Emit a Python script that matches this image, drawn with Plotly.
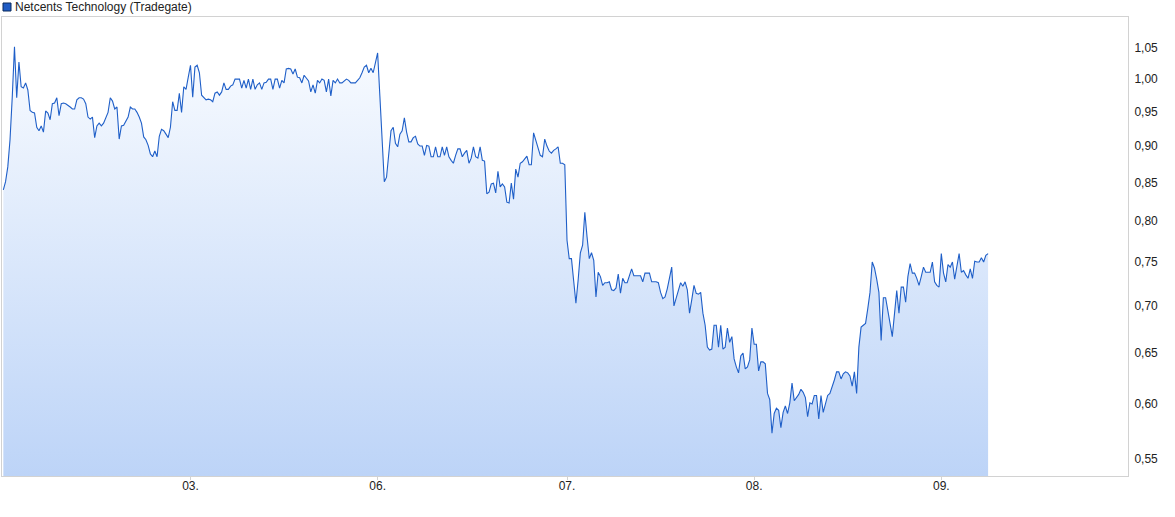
import plotly.graph_objects as go

# ---- data ----
series_name = "Netcents Technology (Tradegate)"

prices = [
    0.840, 0.851, 0.871, 0.909, 0.972, 1.052, 0.971, 1.027, 0.988, 0.986,
    0.994, 0.983, 0.952, 0.949, 0.948, 0.927, 0.922, 0.929, 0.920, 0.951,
    0.948, 0.938, 0.962, 0.963, 0.971, 0.944, 0.962, 0.963, 0.962, 0.960,
    0.957, 0.954, 0.954, 0.968, 0.971, 0.971, 0.969, 0.962, 0.942, 0.939,
    0.942, 0.912, 0.929, 0.933, 0.929, 0.933, 0.942, 0.949, 0.971, 0.966,
    0.954, 0.957, 0.910, 0.929, 0.930, 0.936, 0.942, 0.957, 0.954, 0.954,
    0.949, 0.942, 0.933, 0.913, 0.909, 0.901, 0.889, 0.885, 0.893, 0.885,
    0.914, 0.924, 0.922, 0.917, 0.912, 0.927, 0.965, 0.952, 0.952, 0.978,
    0.949, 0.988, 0.984, 1.003, 1.022,
    # segment 2
    0.972, 1.019, 1.022, 1.010, 0.975, 0.972, 0.968, 0.969, 0.968, 0.965,
    0.978, 0.980, 0.975, 0.980, 0.994, 0.984, 0.984, 0.989, 0.991, 1.000,
    1.000, 1.000, 0.986, 0.998, 0.986, 1.000, 0.984, 1.000, 0.984, 0.991,
    0.994, 0.984, 0.994, 0.995, 1.000, 1.000, 0.984, 1.000, 1.000, 0.986,
    0.998, 0.994, 1.016, 1.017, 1.016, 1.008, 1.016, 1.003, 1.002, 0.994,
    1.006, 1.002, 0.997, 0.980, 0.991, 0.978, 0.998, 0.994, 1.000, 0.998,
    0.980, 1.000, 0.974, 0.998, 0.994, 1.000, 0.994, 0.994, 0.997, 1.000,
    0.998, 0.994, 0.994, 0.994, 0.998, 1.002, 1.010, 1.019, 1.022, 1.010,
    1.017, 1.010, 1.026, 1.042,
    # segment 3
    0.974, 0.910, 0.851, 0.857, 0.890, 0.922, 0.927, 0.904, 0.899, 0.917,
    0.922, 0.941, 0.920, 0.906, 0.906, 0.912, 0.914, 0.903, 0.900, 0.900,
    0.887, 0.901, 0.900, 0.885, 0.885, 0.899, 0.885, 0.885, 0.899, 0.887,
    0.899, 0.885, 0.880, 0.876, 0.887, 0.896, 0.896, 0.885, 0.890, 0.894,
    0.876, 0.883, 0.899, 0.885, 0.883, 0.899, 0.880, 0.879, 0.835, 0.837,
    0.848, 0.849, 0.836, 0.865, 0.844, 0.848, 0.844, 0.824, 0.823, 0.849,
    0.828, 0.868, 0.857, 0.876, 0.878, 0.882, 0.886, 0.874, 0.874, 0.919,
    0.909, 0.900, 0.887, 0.885, 0.910, 0.900, 0.893, 0.890, 0.894, 0.896,
    0.899, 0.876, 0.876, 0.874,
    # segment 4
    0.776, 0.754, 0.754, 0.728, 0.703, 0.729, 0.761, 0.770, 0.811, 0.780,
    0.754, 0.761, 0.752, 0.710, 0.738, 0.733, 0.723, 0.726, 0.726, 0.727,
    0.718, 0.717, 0.720, 0.736, 0.714, 0.731, 0.726, 0.726, 0.733, 0.742,
    0.734, 0.734, 0.734, 0.734, 0.727, 0.737, 0.737, 0.737, 0.727, 0.727,
    0.727, 0.726, 0.715, 0.708, 0.710, 0.719, 0.733, 0.744, 0.700, 0.708,
    0.715, 0.726, 0.722, 0.727, 0.718, 0.692, 0.707, 0.723, 0.714, 0.713,
    0.715, 0.692, 0.679, 0.656, 0.653, 0.654, 0.679, 0.679, 0.656, 0.679,
    0.654, 0.656, 0.676, 0.661, 0.667, 0.644, 0.636, 0.630, 0.647, 0.650,
    0.634, 0.636, 0.643, 0.676, 0.659, 0.659, 0.632, 0.641, 0.641, 0.639,
    0.610, 0.604, 0.573, 0.591, 0.596, 0.594, 0.578, 0.592, 0.598, 0.591,
    0.601, 0.620, 0.603, 0.606, 0.609, 0.614, 0.611, 0.606, 0.588, 0.601,
    0.600, 0.608, 0.608, 0.586, 0.608, 0.592, 0.600, 0.608, 0.610, 0.616,
    0.623, 0.631, 0.631, 0.624, 0.629, 0.631, 0.630, 0.627, 0.617, 0.631,
    0.610, 0.656, 0.677, 0.679, 0.681, 0.697, 0.715, 0.750, 0.743, 0.730,
    0.715, 0.663, 0.709, 0.709, 0.692, 0.681, 0.667, 0.693, 0.717, 0.692,
    0.721, 0.721, 0.704, 0.733, 0.748, 0.737, 0.737, 0.731, 0.723, 0.733,
    0.744, 0.738, 0.738, 0.738, 0.750, 0.727, 0.723, 0.721, 0.760, 0.737,
    0.727, 0.747, 0.744, 0.750, 0.730, 0.744, 0.760, 0.738, 0.740, 0.735,
    0.731, 0.742, 0.731, 0.751, 0.750, 0.750, 0.755, 0.750, 0.758, 0.760,
]

x_tick_positions = [84, 168, 253, 337, 421]
x_tick_labels = ["03.", "06.", "07.", "08.", "09."]

y_tick_values = [0.55, 0.60, 0.65, 0.70, 0.75, 0.80, 0.85, 0.90, 0.95, 1.00, 1.05]
y_tick_labels = ["0,55", "0,60", "0,65", "0,70", "0,75", "0,80", "0,85",
                 "0,90", "0,95", "1,00", "1,05"]

# ---- styling constants ----
LINE_COLOR = "#1f5fc8"
FRAME = "#d2d2d2"
TEXT = "#222222"
FONT = "Liberation Sans, Arial, sans-serif"
Y_FLOOR = 0.52                       # fill baseline (below the visible range)

idx = list(range(len(prices)))

fig = go.Figure()
fig.add_trace(go.Scatter(
    x=idx, y=[Y_FLOOR] * len(idx), mode="lines",
    line=dict(width=0, color="rgba(0,0,0,0)"),
    hoverinfo="skip", showlegend=False,
))
fig.add_trace(go.Scatter(
    x=idx, y=prices, mode="lines", name=series_name,
    line=dict(color=LINE_COLOR, width=1.1),
    fill="tonexty",
    fillgradient=dict(type="vertical",
                      colorscale=[[0, "#bad2f7"], [1, "#f8fbff"]]),
    showlegend=False,
))

fig.update_layout(
    width=1175, height=517,
    margin=dict(l=2, r=47, t=17, b=41),
    paper_bgcolor="white", plot_bgcolor="white",
    font=dict(family=FONT, size=12, color=TEXT),
    showlegend=False,
    xaxis=dict(
        range=[-0.6, 504.8],
        tickmode="array", tickvals=x_tick_positions, ticktext=x_tick_labels,
        showgrid=False, zeroline=False,
        showline=True, mirror=True, linecolor=FRAME, linewidth=1,
        ticks="outside", ticklen=3, tickcolor=FRAME,
        ticklabelstandoff=-4,
        tickfont=dict(family=FONT, size=12, color=TEXT),
    ),
    yaxis=dict(
        type="log",
        range=[-0.2711, 0.0424],
        side="right",
        tickmode="array", tickvals=y_tick_values, ticktext=y_tick_labels,
        showgrid=False, zeroline=False,
        showline=True, mirror=True, linecolor=FRAME, linewidth=1,
        ticks="", ticklabelstandoff=3,
        tickfont=dict(family=FONT, size=12, color=TEXT),
    ),
)

# legend (square + text) in the top-left corner
fig.add_shape(
    type="rect", xref="paper", yref="paper",
    xsizemode="pixel", ysizemode="pixel", xanchor=0, yanchor=1,
    x0=1, x1=9, y0=6, y1=14,
    fillcolor="#1f5bc4", line=dict(color="#0b2a5c", width=1),
)
fig.add_annotation(
    xref="paper", yref="paper", x=0, y=1, xshift=11, yshift=10,
    xanchor="left", yanchor="middle", showarrow=False,
    text=series_name, font=dict(family=FONT, size=12, color=TEXT),
)

fig.write_html(
    "out.html",
    config={"displayModeBar": False},
    post_script="document.body.style.margin='0';document.body.style.padding='0';",
)
